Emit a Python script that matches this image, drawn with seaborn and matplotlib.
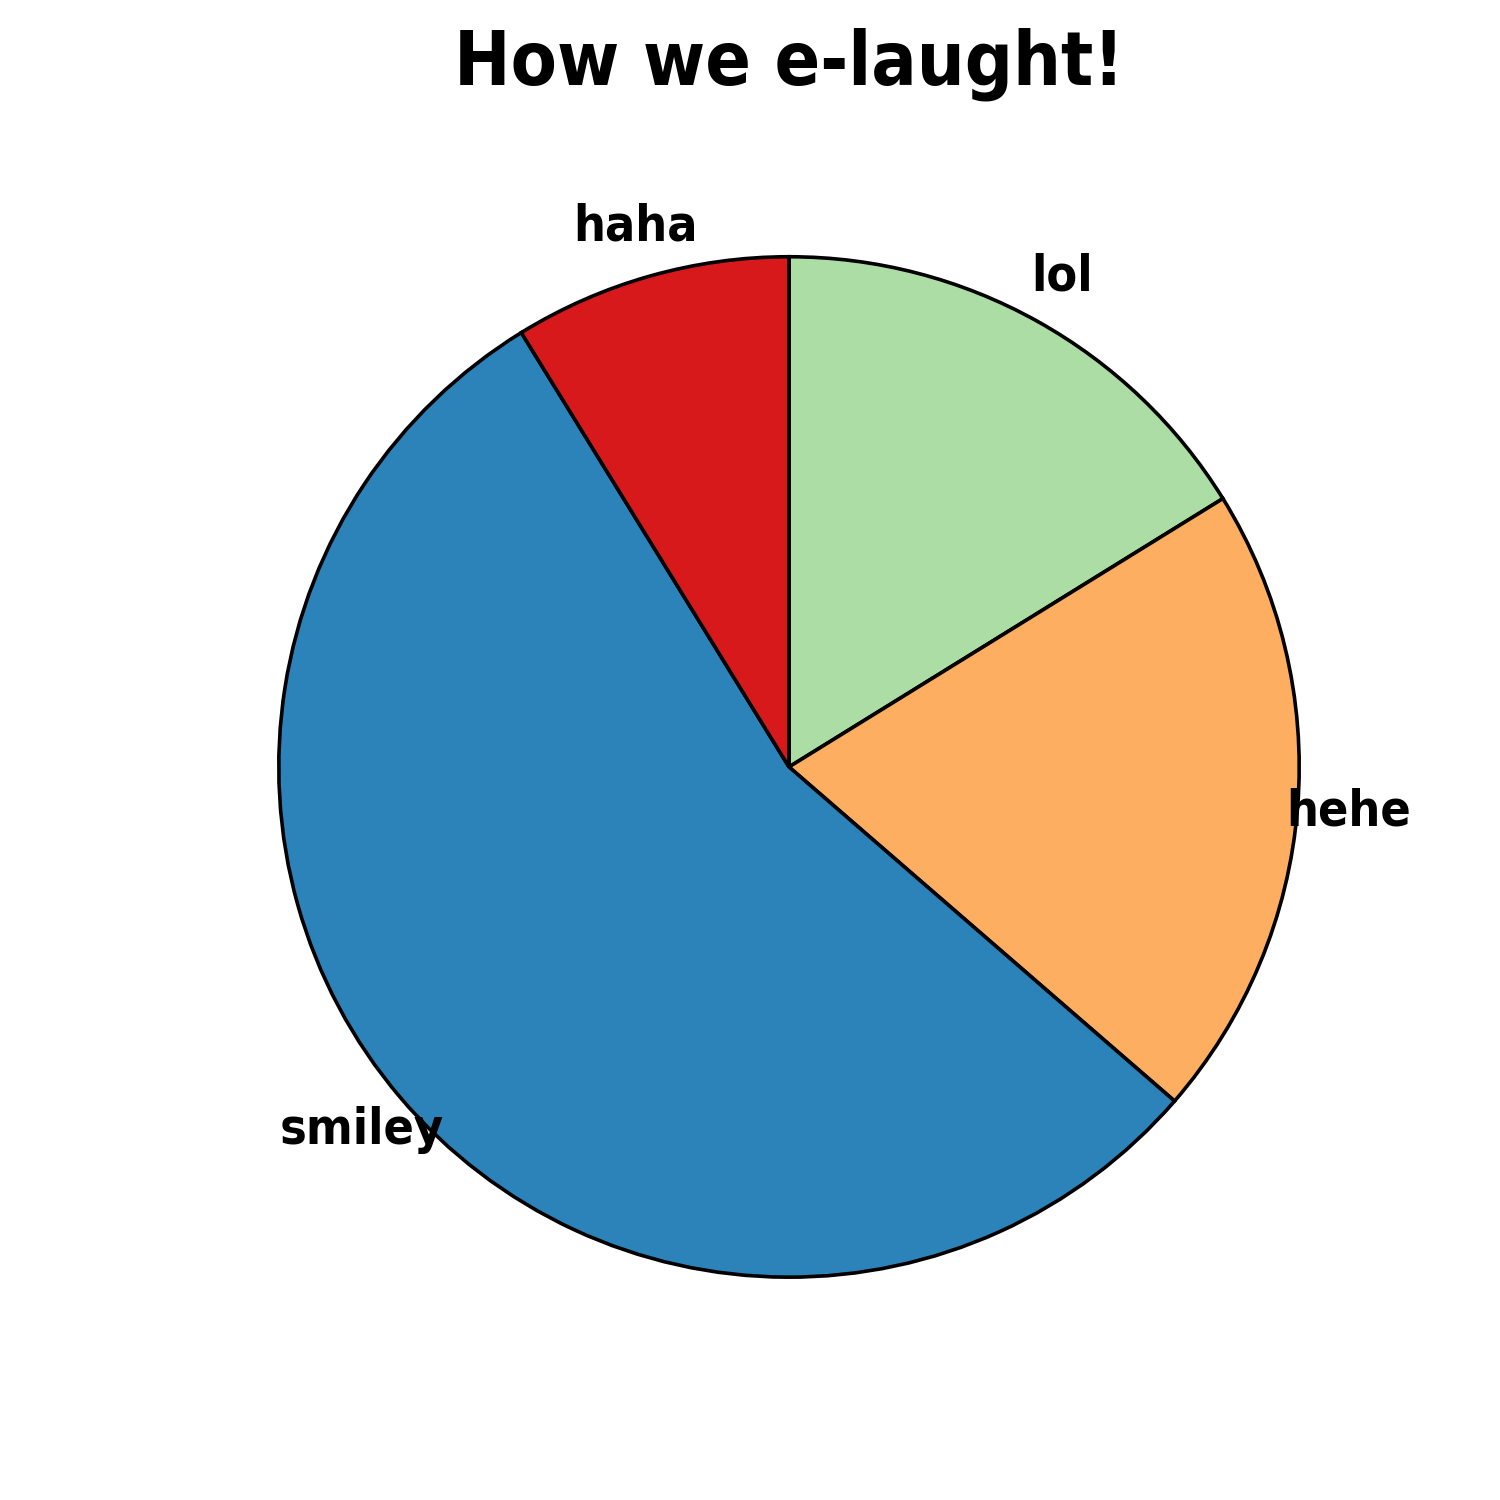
import matplotlib
matplotlib.use("Agg")
import matplotlib.pyplot as plt
import seaborn as sns

labels = ["lol", "hehe", "smiley", "haha"]
shares = [16.2, 20.2, 54.9, 8.8]
colors = ["#abdda4", "#fdae61", "#2b83ba", "#d7191c"]

sns.set_theme(style="white")
plt.rcParams['font.family'] = ['DejaVu Sans']
plt.rcParams['font.stretch'] = 'condensed'

fig = plt.figure(figsize=(15, 15), dpi=100)
ax = fig.add_axes([0.126, 0.0887, 0.8, 0.8])

palette = sns.color_palette(colors)
ax.pie(shares, labels=labels, colors=palette, startangle=90, counterclock=False,
       labeldistance=1.1,
       wedgeprops={'edgecolor': 'black', 'linewidth': 2.6},
       textprops={'ha': 'center', 'va': 'center', 'fontsize': 36,
                  'fontweight': 'bold', 'fontstretch': 'condensed',
                  'color': 'black'})
ax.set_xlim(-1.176, 1.176)
ax.set_ylim(-1.176, 1.176)
ax.set_aspect('equal')

fig.text(0.526, 0.957, "How we e-laught!", ha='center', va='center',
         fontsize=54, fontweight='bold', fontstretch='condensed', color='black')

fig.savefig("out.png", dpi=100, facecolor='white')
